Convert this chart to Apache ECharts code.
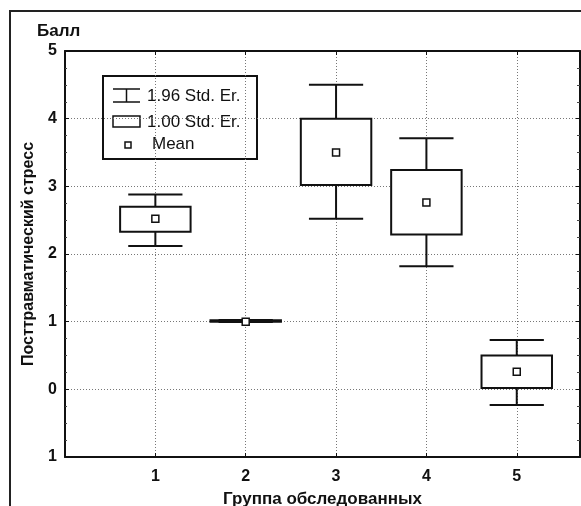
<!DOCTYPE html>
<html>
<head>
<meta charset="utf-8">
<script src="https://cdn.jsdelivr.net/npm/echarts@6/dist/echarts.min.js"></script>
<style>html,body{margin:0;padding:0;background:#fff}#c{width:581px;height:506px}</style>
</head>
<body>
<div id="c"></div>
<script>
// Data
const groups = [1, 2, 3, 4, 5];
const means = [2.52, 1.0, 3.5, 2.76, 0.26];
const boxLow = [2.33, 1.0, 3.02, 2.29, 0.02];
const boxHigh = [2.70, 1.02, 4.0, 3.24, 0.50];
const whiskLow = [2.12, 0.995, 2.52, 1.82, -0.23];
const whiskHigh = [2.88, 1.025, 4.5, 3.71, 0.73];
const xTickLabels = ['', '1', '2', '3', '4', '5'];
const yTickLabels = ['1', '0', '1', '2', '3', '4', '5'];
const yMin = -1, yMax = 5;
const legendLabels = ['1.96 Std. Er.', '1.00 Std. Er.', 'Mean'];

const FONT = 'Liberation Sans, Arial, sans-serif';
const INK = '#111';
const boxHalf = 0.39, capHalf = 0.30;

const chart = echarts.init(document.getElementById('c'), null, {renderer: 'canvas'});
const data = groups.map((g, i) => [g, means[i], boxLow[i], boxHigh[i], whiskLow[i], whiskHigh[i]]);

function renderItem(params, api) {
  const x = api.value(0);
  const pM = api.coord([x, api.value(1)]);
  const pBL = api.coord([x, api.value(2)]);
  const pBH = api.coord([x, api.value(3)]);
  const pWL = api.coord([x, api.value(4)]);
  const pWH = api.coord([x, api.value(5)]);
  const bw = api.size([boxHalf, 0])[0];
  const cw = api.size([capHalf, 0])[0];
  const ls = {stroke: INK, lineWidth: 2};
  return {
    type: 'group',
    children: [
      {type: 'line', shape: {x1: pM[0], y1: pWH[1], x2: pM[0], y2: pBH[1]}, style: ls},
      {type: 'line', shape: {x1: pM[0], y1: pBL[1], x2: pM[0], y2: pWL[1]}, style: ls},
      {type: 'line', shape: {x1: pM[0] - cw, y1: pWH[1], x2: pM[0] + cw, y2: pWH[1]}, style: ls},
      {type: 'line', shape: {x1: pM[0] - cw, y1: pWL[1], x2: pM[0] + cw, y2: pWL[1]}, style: ls},
      {type: 'rect', shape: {x: pM[0] - bw, y: pBH[1], width: 2 * bw, height: Math.max(pBL[1] - pBH[1], 0.5)},
        style: {fill: '#fff', stroke: INK, lineWidth: 2}},
      {type: 'rect', shape: {x: pM[0] - 3.5, y: pM[1] - 3.5, width: 7, height: 7},
        style: {fill: '#fff', stroke: INK, lineWidth: 1.5}}
    ]
  };
}

const gridLine = {show: true, lineStyle: {color: '#777', width: 1, type: [1, 2]}};

chart.setOption({
  animation: false,
  backgroundColor: '#fff',
  grid: {left: 65, top: 51, right: 1, bottom: 49, containLabel: false, outerBoundsMode: 'none'},
  xAxis: [{
    type: 'value', min: 0, max: 5.7, interval: 1, position: 'bottom',
    axisLine: {show: true, onZero: false, lineStyle: {color: INK, width: 2}},
    axisTick: {show: true, inside: true, length: 4, lineStyle: {color: INK}},
    axisLabel: {show: true, showMaxLabel: false, margin: 12, color: INK,
      fontFamily: FONT, fontSize: 16, fontWeight: 'bold',
      formatter: v => xTickLabels[Math.round(v)] || ''},
    splitLine: gridLine,
    name: 'Группа обследованных', nameLocation: 'middle', nameGap: 34,
    nameTextStyle: {color: INK, fontFamily: FONT, fontSize: 17, fontWeight: 'bold'}
  }, {
    type: 'value', min: 0, max: 5.7, interval: 1, position: 'top',
    axisLine: {show: true, onZero: false, lineStyle: {color: INK, width: 2}},
    axisTick: {show: true, inside: true, length: 4, lineStyle: {color: INK}},
    axisLabel: {show: false}, splitLine: {show: false}
  }],
  yAxis: [{
    type: 'value', min: yMin, max: yMax, interval: 1, position: 'left',
    axisLine: {show: true, onZero: false, lineStyle: {color: INK, width: 2}},
    axisTick: {show: true, inside: true, length: 4, lineStyle: {color: INK}},
    minorTick: {show: true, splitNumber: 4, length: 2, lineStyle: {color: '#444'}},
    axisLabel: {margin: 8, color: INK, fontFamily: FONT, fontSize: 16, fontWeight: 'bold',
      formatter: v => yTickLabels[Math.round(v - yMin)]},
    splitLine: gridLine,
    name: 'Посттравматический стресс', nameLocation: 'middle', nameGap: 28,
    nameTextStyle: {color: INK, fontFamily: FONT, fontSize: 16, fontWeight: 'bold'}
  }, {
    type: 'value', min: yMin, max: yMax, interval: 1, position: 'right',
    axisLine: {show: true, onZero: false, lineStyle: {color: INK, width: 2}},
    axisTick: {show: true, inside: true, length: 4, lineStyle: {color: INK}},
    minorTick: {show: true, splitNumber: 4, length: 3, lineStyle: {color: '#444'}},
    axisLabel: {show: false}, splitLine: {show: false}
  }],
  graphic: [
    {type: 'rect', z: -1, shape: {x: 10, y: 11, width: 620, height: 600},
      style: {fill: 'none', stroke: '#222', lineWidth: 2}},
    {type: 'text', left: 37, top: 23, style: {text: 'Балл', fill: INK,
      font: 'bold 17px ' + FONT}},
    {type: 'group', left: 102, top: 75, z: 100, children: [
      {type: 'rect', shape: {x: 0, y: 0, width: 154, height: 83},
        style: {fill: '#fff', stroke: INK, lineWidth: 2}},
      {type: 'line', shape: {x1: 10, y1: 13, x2: 37, y2: 13}, style: {stroke: INK, lineWidth: 1.5}},
      {type: 'line', shape: {x1: 10, y1: 26, x2: 37, y2: 26}, style: {stroke: INK, lineWidth: 1.5}},
      {type: 'line', shape: {x1: 23.5, y1: 13, x2: 23.5, y2: 26}, style: {stroke: INK, lineWidth: 1.5}},
      {type: 'rect', shape: {x: 10, y: 40, width: 27, height: 11}, style: {fill: '#fff', stroke: INK, lineWidth: 1.5}},
      {type: 'rect', shape: {x: 22, y: 66, width: 6, height: 6}, style: {fill: '#fff', stroke: INK, lineWidth: 1.5}},
      {type: 'text', x: 44, y: 20, style: {text: legendLabels[0], fill: INK, font: '17px ' + FONT, verticalAlign: 'middle'}},
      {type: 'text', x: 44, y: 46, style: {text: legendLabels[1], fill: INK, font: '17px ' + FONT, verticalAlign: 'middle'}},
      {type: 'text', x: 49, y: 68, style: {text: legendLabels[2], fill: INK, font: '17px ' + FONT, verticalAlign: 'middle'}}
    ]}
  ],
  series: [{
    type: 'custom', xAxisIndex: 0, yAxisIndex: 0,
    renderItem: renderItem, data: data, clip: false, z: 10
  }]
});
</script>
</body>
</html>
